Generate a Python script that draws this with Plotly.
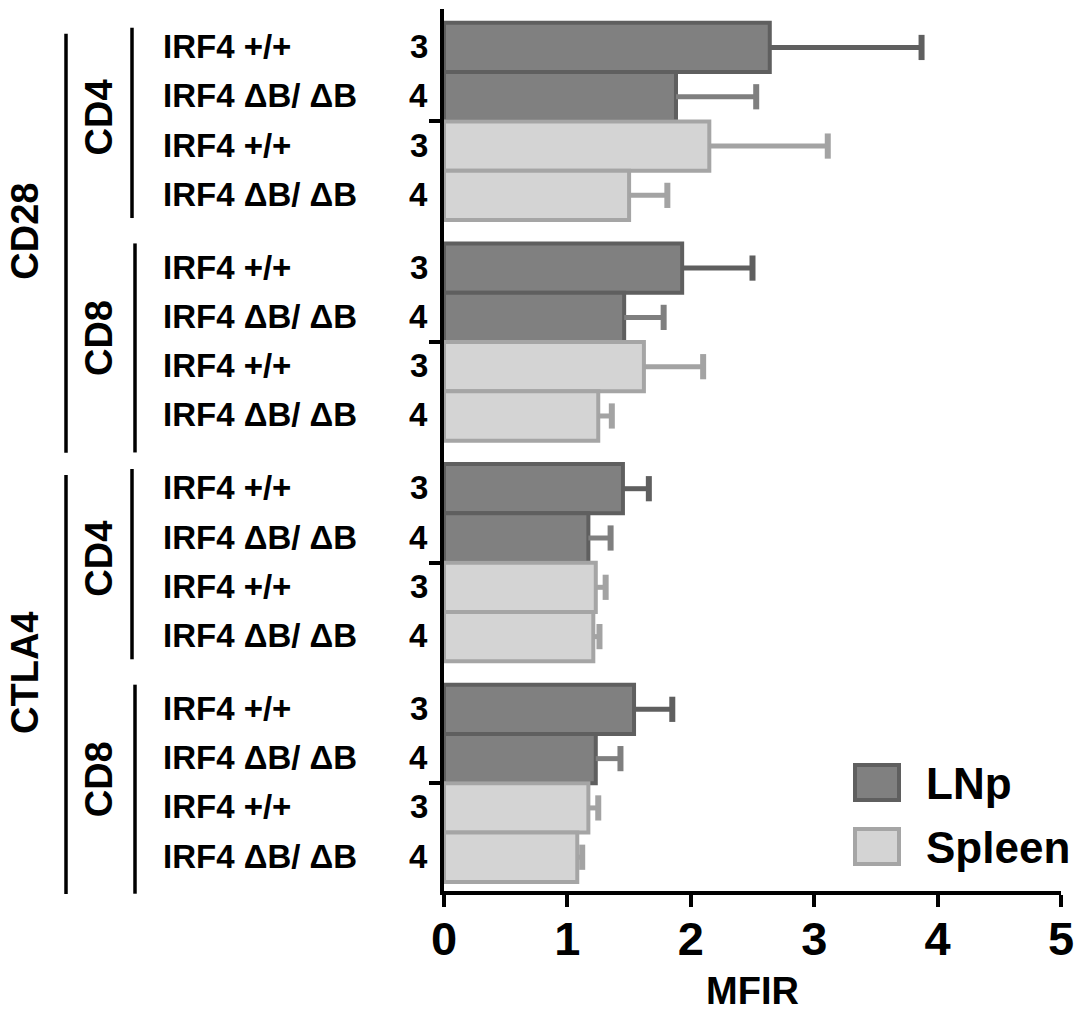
import plotly.graph_objects as go

# ---------------- data ----------------
markers = ["CD28", "CTLA4"]
cell_types = ["CD4", "CD8"]
genotypes = ["IRF4 +/+", "IRF4 \u0394B/ \u0394B", "IRF4 +/+", "IRF4 \u0394B/ \u0394B"]
tissues = ["LNp", "LNp", "Spleen", "Spleen"]
n_values = [3, 4, 3, 4]

# rows in order: CD28-CD4, CD28-CD8, CTLA4-CD4, CTLA4-CD8 ; each: LNp +/+, LNp dB, Spleen +/+, Spleen dB
mfir_means = [
    2.64, 1.88, 2.15, 1.50,
    1.93, 1.46, 1.62, 1.25,
    1.45, 1.17, 1.23, 1.21,
    1.54, 1.23, 1.17, 1.08,
]
mfir_sd = [
    1.23, 0.65, 0.96, 0.31,
    0.57, 0.32, 0.48, 0.11,
    0.21, 0.18, 0.08, 0.05,
    0.31, 0.20, 0.08, 0.04,
]
x_ticks = [0, 1, 2, 3, 4, 5]
x_title = "MFIR"

# ---------------- style / geometry ----------------
W, H = 1078, 1012
ML, MR, MT, MB = 444, 17, 9, 121
PW, PH = W - ML - MR, H - MT - MB
GROUP_PITCH = 4.475
Y_RANGE = [17.11, -0.78]
FONT = "Liberation Sans, Arial, Helvetica, sans-serif"

fill = {"LNp": "#808080", "Spleen": "#d4d4d4"}
border = {"LNp": "#5f5f5f", "Spleen": "#a5a5a5"}
err_color = ["#5f5f5f", "#7f7f7f", "#a3a3a3", "#a3a3a3"]


def xp(px):
    return (px - ML) / PW


def yp(py):
    return 1 - (py - MT) / PH


def ydata_to_paper(v):
    return (Y_RANGE[0] - v) / (Y_RANGE[0] - Y_RANGE[1])


n_groups = len(markers) * len(cell_types)
rows = []
for g in range(n_groups):
    for b in range(len(genotypes)):
        rows.append((g, b, g * GROUP_PITCH + b))

fig = go.Figure()

# bars
for tissue in ["LNp", "Spleen"]:
    xs, ys = [], []
    for i, (g, b, pos) in enumerate(rows):
        if tissues[b] == tissue:
            xs.append(mfir_means[i])
            ys.append(pos)
    fig.add_trace(go.Bar(
        x=xs, y=ys, orientation="h", width=1.0, name=tissue,
        marker=dict(color=fill[tissue], line=dict(color=border[tissue], width=4)),
        showlegend=False, hoverinfo="x",
    ))

# error bars (positive side only)
for b in range(len(genotypes)):
    lx, ly, cx, cy = [], [], [], []
    for i, (g, bb, pos) in enumerate(rows):
        if bb != b:
            continue
        top = mfir_means[i] + mfir_sd[i]
        lx += [mfir_means[i], top, None]
        ly += [pos, pos, None]
        cx.append(top)
        cy.append(pos)
    fig.add_trace(go.Scatter(x=lx, y=ly, mode="lines",
                             line=dict(color=err_color[b], width=5),
                             showlegend=False, hoverinfo="skip"))
    fig.add_trace(go.Scatter(x=cx, y=cy, mode="markers",
                             marker=dict(symbol="line-ns", size=18,
                                         line=dict(color=err_color[b], width=6)),
                             showlegend=False, hoverinfo="skip"))

annotations = []
shapes = []
label_font = dict(family=FONT, size=33, color="black", weight="bold")
for i, (g, b, pos) in enumerate(rows):
    annotations.append(dict(x=xp(161), xref="paper", y=pos, yref="y", text=genotypes[b],
                            xanchor="left", yanchor="middle", showarrow=False,
                            font=label_font, yshift=1))
    annotations.append(dict(x=xp(430), xref="paper", y=pos, yref="y", text=str(n_values[b]),
                            xanchor="right", yanchor="middle", showarrow=False,
                            font=label_font, yshift=1))

group_font = dict(family=FONT, size=38, color="black", weight="bold")
bracket_x = {"CD4": 132, "CD8": 135}
bracket_ext = {"CD4": (-0.4, 3.46), "CD8": (-0.5, 3.74)}
for mi, m in enumerate(markers):
    for ci, c in enumerate(cell_types):
        g = mi * len(cell_types) + ci
        start = g * GROUP_PITCH
        center = start + 1.5
        annotations.append(dict(x=xp(99), xref="paper", y=center, yref="y", text=c,
                                textangle=-90, xanchor="center", yanchor="middle",
                                showarrow=False, font=group_font, yshift=4))
        e0, e1 = bracket_ext[c]
        shapes.append(dict(type="line", xref="paper", yref="paper",
                           x0=xp(bracket_x[c]), x1=xp(bracket_x[c]),
                           y0=ydata_to_paper(start + e0), y1=ydata_to_paper(start + e1),
                           line=dict(color="black", width=3.5)))
    start = mi * len(cell_types) * GROUP_PITCH
    center = start + (GROUP_PITCH + 3) / 2
    annotations.append(dict(x=xp(25), xref="paper", y=center, yref="y", text=m,
                            textangle=-90, xanchor="center", yanchor="middle",
                            showarrow=False, font=group_font))
    shapes.append(dict(type="line", xref="paper", yref="paper", x0=xp(66), x1=xp(66),
                       y0=ydata_to_paper(start - 0.28), y1=ydata_to_paper(start + 8.22),
                       line=dict(color="black", width=3.5)))

# manual legend
legend_items = ["LNp", "Spleen"]
leg_top = [763, 827]
for name, t in zip(legend_items, leg_top):
    shapes.append(dict(type="rect", xref="paper", yref="paper",
                       x0=xp(855), x1=xp(899), y0=yp(t + 2), y1=yp(t + 37),
                       fillcolor=fill[name], line=dict(color=border[name], width=4)))
    annotations.append(dict(x=xp(924), xref="paper", y=yp(t + 20), yref="paper", text=name,
                            xanchor="left", yanchor="middle", showarrow=False,
                            font=dict(family=FONT, size=44, color="black", weight="bold")))

fig.update_layout(
    width=W, height=H,
    margin=dict(l=ML, r=MR, t=MT, b=MB, autoexpand=False),
    paper_bgcolor="white", plot_bgcolor="white",
    barmode="overlay",
    showlegend=False,
    annotations=annotations,
    shapes=shapes,
    xaxis=dict(range=[0, 5], tickvals=x_ticks, ticktext=[str(v) for v in x_ticks],
               automargin=False,
               showline=True, linecolor="black", linewidth=3.5,
               ticks="outside", ticklen=12, tickwidth=3.5, tickcolor="black",
               ticklabelstandoff=-8,
               showgrid=False, zeroline=False,
               tickfont=dict(family=FONT, size=47, color="black", weight="bold"),
               title=dict(text=x_title, standoff=14,
                          font=dict(family=FONT, size=38, color="black", weight="bold"))),
    yaxis=dict(range=Y_RANGE, tickvals=[g * GROUP_PITCH + 1.5 for g in range(n_groups)],
               ticktext=[""] * n_groups, automargin=False,
               showline=True, linecolor="black", linewidth=3.5,
               ticks="outside", ticklen=11, tickwidth=3.5, tickcolor="black",
               showgrid=False, zeroline=False),
)

fig.write_html("out.html")
